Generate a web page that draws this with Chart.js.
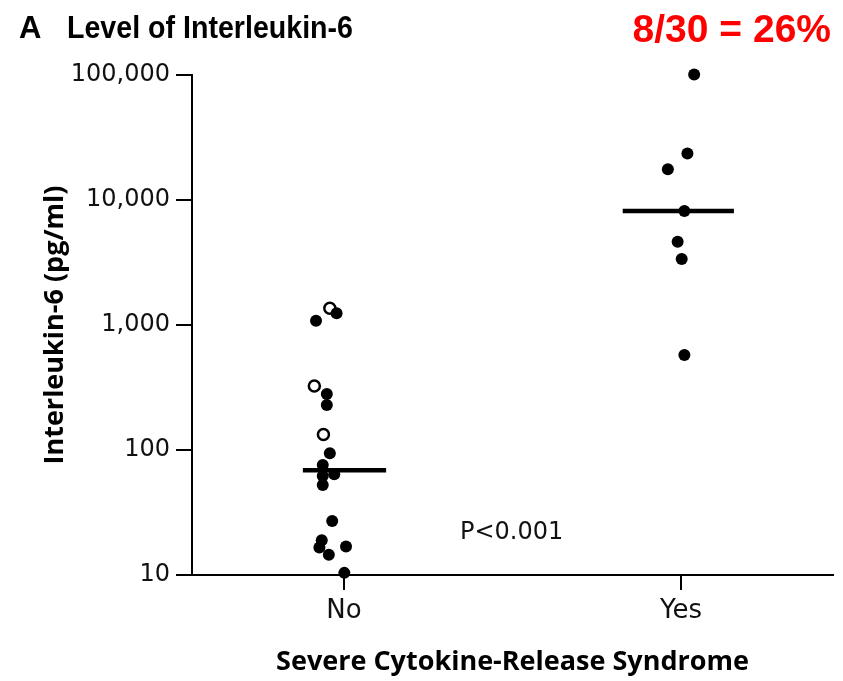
<!DOCTYPE html>
<html>
<head>
<meta charset="utf-8">
<script src="https://cdn.jsdelivr.net/npm/chart.js@4"></script>
<style>
  html, body { margin: 0; padding: 0; background: #fff; }
  canvas { display: block; }
</style>
</head>
<body>
<canvas id="il6" width="843" height="681"></canvas>
<script>
// categories on the x axis (1 = No, 2 = Yes)
const categories = ['No', 'Yes'];
const yTicks = [10, 100, 1000, 10000, 100000];

// No group, filled circles (x = jittered category position)
const noFilledX = [0.978, 0.917, 0.949, 0.949, 0.958, 0.937, 0.971, 0.937, 0.937, 0.965, 0.934, 0.927, 1.006, 0.955, 1.001];
const noFilledY = [1240, 1080, 281, 229, 94, 76, 64, 62, 52.5, 27, 19, 16.6, 16.9, 14.5, 10.4];
// No group, open circles
const noOpenX = [0.958, 0.912, 0.939];
const noOpenY = [1360, 325, 133];
// Yes group, filled circles
const yesX = [2.039, 2.019, 1.961, 2.010, 1.990, 2.002, 2.010];
const yesY = [101000, 23600, 17600, 8170, 4640, 3370, 575];

// medians with their horizontal extent
const medianY = [69, 8170];
const medianFrom = [0.878, 1.827];
const medianTo = [1.125, 2.157];

const pts = (xs, ys) => xs.map((x, i) => ({ x, y: ys[i] }));

const textPlugin = {
  id: 'texts',
  afterDraw(chart) {
    const ctx = chart.ctx;
    ctx.save();
    ctx.textBaseline = 'alphabetic';
    ctx.fillStyle = '#000';
    ctx.font = 'bold 31px "Liberation Sans Narrow", "Liberation Sans", sans-serif';
    ctx.textAlign = 'left';
    ctx.fillText('A', 19, 38);
    ctx.fillText('Level of Interleukin-6', 67, 38, 286);

    ctx.fillStyle = '#ff0000';
    ctx.font = 'bold 39px "Liberation Sans", Arial, sans-serif';
    ctx.textAlign = 'right';
    ctx.fillText('8/30 = 26%', 831, 42);

    ctx.fillStyle = '#111';
    ctx.font = '24px "DejaVu Sans", sans-serif';
    ctx.textAlign = 'left';
    ctx.fillText('P<0.001', 460, 539);
    ctx.restore();
  }
};

new Chart(document.getElementById('il6'), {
  type: 'scatter',
  data: {
    datasets: [
      {
        data: pts(noFilledX, noFilledY),
        pointRadius: 6, pointBackgroundColor: '#000', pointBorderColor: '#000', pointBorderWidth: 0
      },
      {
        data: pts(noOpenX, noOpenY),
        pointRadius: 5.5, pointBackgroundColor: '#fff', pointBorderColor: '#000', pointBorderWidth: 2.5
      },
      {
        data: pts(yesX, yesY),
        pointRadius: 6, pointBackgroundColor: '#000', pointBorderColor: '#000', pointBorderWidth: 0
      },
      ...medianY.map((m, i) => ({
        type: 'line',
        data: [{ x: medianFrom[i], y: m }, { x: medianTo[i], y: m }],
        borderColor: '#000', borderWidth: 4.5, pointRadius: 0, showLine: true
      }))
    ]
  },
  options: {
    responsive: false,
    animation: false,
    clip: false,
    layout: { padding: { top: 75, right: 10, left: 0, bottom: 0 } },
    plugins: { legend: { display: false }, tooltip: { enabled: false } },
    scales: {
      x: {
        type: 'linear',
        min: 0.549,
        max: 2.451,
        afterBuildTicks: s => { s.ticks = categories.map((c, i) => ({ value: i + 1 })); },
        afterFit: s => { s.height = 106; },
        ticks: {
          callback: v => categories[v - 1],
          color: '#111',
          padding: 6,
          font: { family: '"DejaVu Sans", sans-serif', size: 26 }
        },
        grid: { drawOnChartArea: false, tickLength: 15, color: '#000', lineWidth: 2 },
        border: { color: '#000', width: 2 },
        title: {
          display: true,
          text: 'Severe Cytokine-Release Syndrome',
          color: '#000',
          padding: { top: 0, bottom: 2 },
          font: { family: '"Open Sans", sans-serif', size: 27, weight: 'bold' }
        }
      },
      y: {
        type: 'logarithmic',
        min: 10,
        max: 100000,
        afterBuildTicks: s => { s.ticks = yTicks.map(v => ({ value: v })); },
        afterFit: s => { s.width = 192; },
        ticks: {
          callback: v => v.toLocaleString('en-US'),
          color: '#111',
          padding: 6,
          font: { family: '"DejaVu Sans", sans-serif', size: 24 }
        },
        grid: { drawOnChartArea: false, tickLength: 16, color: '#000', lineWidth: 2 },
        border: { color: '#000', width: 2 },
        title: {
          display: true,
          text: 'Interleukin-6 (pg/ml)',
          color: '#000',
          padding: { top: 39, bottom: 0 },
          font: { family: '"Open Sans", sans-serif', size: 27, weight: 'bold' }
        }
      }
    }
  },
  plugins: [textPlugin]
});
</script>
</body>
</html>
